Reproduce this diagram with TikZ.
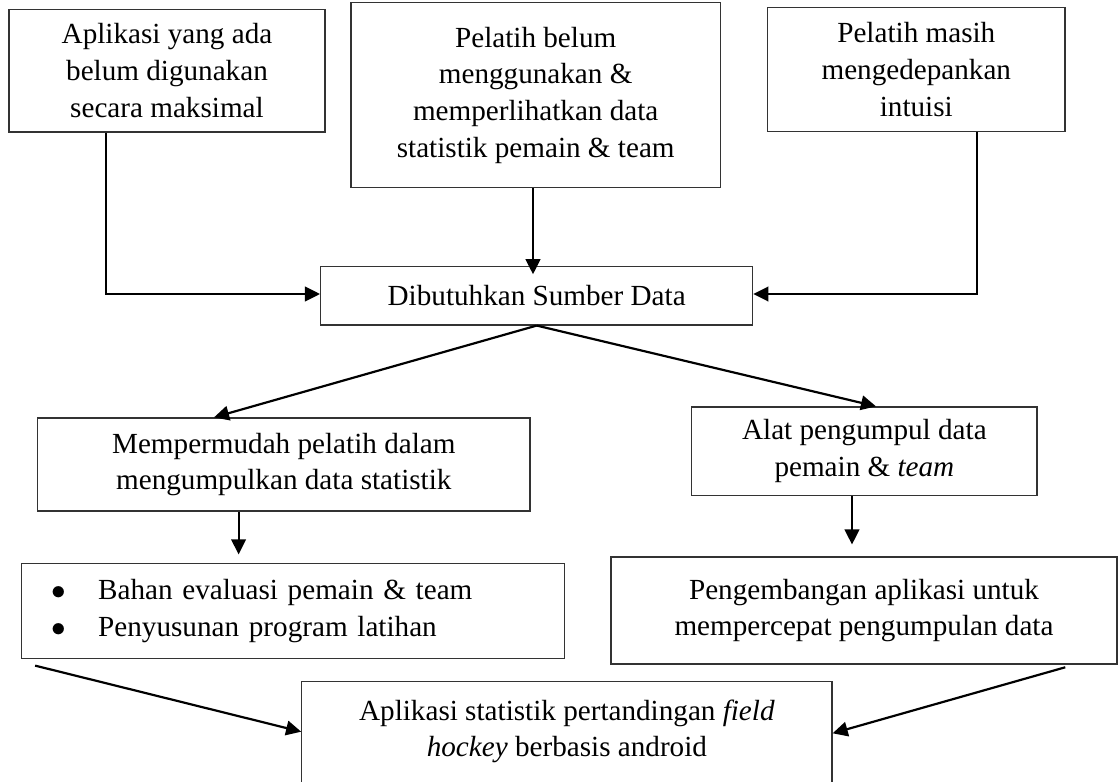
\documentclass[tikz,border=0pt]{standalone}
\usepackage{fontspec}
\setmainfont{Liberation Serif}
\usetikzlibrary{arrows.meta}

\begin{document}
\begin{tikzpicture}[font={\fontsize{12}{15.1}\selectfont},>={Triangle[length=6.2pt,width=6pt]},x=0.4115pt,y=-0.4115pt,
  box/.style={rectangle,fill=white,draw=black!80,text=black,line width=0.5pt,inner xsep=6pt,inner ysep=4.5pt,align=center},
  link/.style={->,draw=black,line width=0.9pt}]
\useasboundingbox (0,0) rectangle (1118,782);
\clip (0,0) rectangle (1118,782);
\node[box,minimum width=130.0pt,minimum height=50.5pt] (apl) at (167,70.7) {Aplikasi yang ada\\belum digunakan\\secara maksimal};
\node[box,minimum width=152.0pt,minimum height=76.1pt] (pel) at (535.7,95.2) {Pelatih belum\\menggunakan \&\\memperlihatkan data\\statistik pemain \& team};
\node[box,minimum width=122.4pt,minimum height=51.2pt] (intu) at (916.3,69.5) {Pelatih masih\\mengedepankan\\intuisi};
\node[box,minimum width=177.8pt,minimum height=24.0pt] (sum) at (536.7,295.8) {Dibutuhkan Sumber Data};
\node[box,minimum width=202.7pt,minimum height=38.3pt] (mud) at (283.8,464.5) {Mempermudah pelatih dalam\\mengumpulkan data statistik};
\node[box,minimum width=142.1pt,minimum height=36.5pt] (alat) at (864.4,451.3) {Alat pengumpul data\\pemain \& \textit{team}};
\node[box,align=left,inner xsep=12.4pt,text width=198.6pt,minimum height=39.1pt] (eva) at (292.9,610.8) {\makebox[19.2pt][l]{$\bullet$}Bahan evaluasi pemain \& team\\\makebox[19.2pt][l]{$\bullet$}Penyusunan program latihan};
\node[box,minimum width=208.2pt,minimum height=44.0pt] (dev) at (864,610.5) {Pengembangan aplikasi untuk\\mempercepat pengumpulan data};
\node[box,anchor=north,minimum width=218.2pt,inner ysep=7.5pt,text depth=40pt] (fin) at (566.9,680.7) {Aplikasi statistik pertandingan \textit{field}\\\textit{hockey} berbasis android};
% masalah ke kebutuhan
\draw[link] ([shift={(-61,0)}]apl.south) |- ([shift={(0,-1.8)}]sum.west);
\draw[link,shorten >=-3.4pt] ([shift={(-2.7,0)}]pel.south) -- ([shift={(-3.7,0)}]sum.north);
\draw[link] ([shift={(60.3,0)}]intu.south) |- ([shift={(0,-1.8)}]sum.east);
% kebutuhan ke solusi
\draw[link] (sum.south) -- ([shift={(-69.8,0)}]mud.north);
\draw[link] (sum.south) -- ([shift={(11.6,0)}]alat.north);
\draw[link,shorten >=3.4pt] ([shift={(-45.2,0)}]mud.south) -- ([shift={(-54.3,0)}]eva.north);
\draw[link,shorten >=4.9pt] ([shift={(-12.4,0)}]alat.south) -- ([shift={(-12,0)}]dev.north);
\draw[link] ([shift={(14.3,6.7)}]eva.south west) -- ([shift={(0,51)}]fin.north west);
\draw[link] ([shift={(-52.3,2.7)}]dev.south east) -- ([shift={(0,52.6)}]fin.north east);
\end{tikzpicture}
\end{document}
